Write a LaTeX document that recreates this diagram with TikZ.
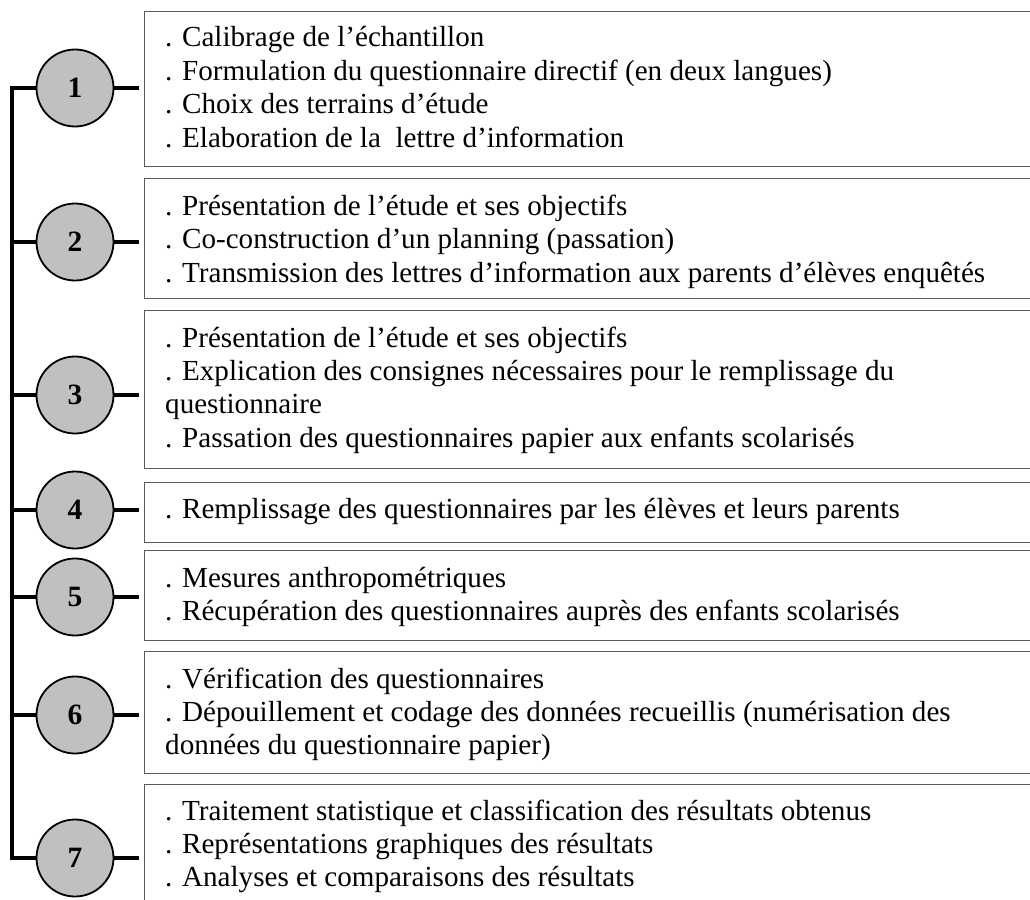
\documentclass[tikz,border=0pt]{standalone}
\usepackage{fontspec}
\setmainfont{Liberation Serif}
\definecolor{boxgray}{RGB}{90,90,90}
\definecolor{numgray}{RGB}{192,192,192}
\begin{document}
\begin{tikzpicture}[x=1pt,y=-1pt,
  box/.style={draw=boxgray, line width=1.3pt, anchor=north west, minimum width=930pt, inner sep=0pt},
  txt/.style={anchor=base west, inner sep=0pt, font=\fontsize{29.1pt}{33pt}\selectfont},
  num/.style={circle, draw=black, line width=1.8pt, fill=numgray, minimum size=77pt, inner sep=0pt, font=\fontsize{29.5pt}{33pt}\selectfont\bfseries},
  bus/.style={line width=4pt, draw=black},
]
\useasboundingbox (0,0) rectangle (1030,899);
\clip (0,0) rectangle (1030,899);

% boxes
\node[box, minimum height=155pt] (b1) at (144,11) {};
\node[box, minimum height=120pt] (b2) at (144,178) {};
\node[box, minimum height=158pt] (b3) at (144,310) {};
\node[box, minimum height=60pt]  (b4) at (144,482) {};
\node[box, minimum height=90pt]  (b5) at (144,550) {};
\node[box, minimum height=122pt] (b6) at (144,651) {};
\node[box, minimum height=200pt] (b7) at (144,784) {};

% circles
\node[num] (c1) at (75,88) {1};
\node[num] (c2) at (75,242) {2};
\node[num] (c3) at (75,395) {3};
\node[num] (c4) at (75,510) {4};
\node[num] (c5) at (75,597) {5};
\node[num] (c6) at (75,715) {6};
\node[num] (c7) at (75,858) {7};

% bus
\coordinate (bt) at (12,88);
\coordinate (bb) at (12,858);
\draw[bus] (c1.west) -- (bt) -- (bb) -- (c7.west);
\foreach \i in {2,...,6}{ \draw[bus] (c\i.west) -- (c\i.west -| bt); }
\foreach \i in {1,...,7}{ \draw[bus, shorten >=5pt] (c\i.east) -- (c\i.east -| b\i.west); }

% texts
\node[txt] (t11) at (165,47)  {. Calibrage de l’échantillon};
\node[txt] (t12) at (165,80)  {. Formulation du questionnaire directif (en deux langues)};
\node[txt] (t13) at (165,113) {. Choix des terrains d’étude};
\node[txt] (t14) at (165,147) {. Elaboration de la~ lettre d’information};

\node[txt] (t21) at (165,215) {. Présentation de l’étude et ses objectifs};
\node[txt] (t22) at (165,248) {. Co-construction d’un planning (passation)};
\node[txt] (t23) at (165,282) {. Transmission des lettres d’information aux parents d’élèves enquêtés};

\node[txt] (t31) at (165,347) {. Présentation de l’étude et ses objectifs};
\node[txt] (t32) at (165,380) {. Explication des consignes nécessaires pour le remplissage du};
\node[txt] (t33) at (165,413) {questionnaire};
\node[txt] (t34) at (165,447) {. Passation des questionnaires papier aux enfants scolarisés};

\node[txt] (t41) at (165,518) {. Remplissage des questionnaires par les élèves et leurs parents};

\node[txt] (t51) at (165,587) {. Mesures anthropométriques};
\node[txt] (t52) at (165,620) {. Récupération des questionnaires auprès des enfants scolarisés};

\node[txt] (t61) at (165,688) {. Vérification des questionnaires};
\node[txt] (t62) at (165,721) {. Dépouillement et codage des données recueillis (numérisation des};
\node[txt] (t63) at (165,754) {données du questionnaire papier)};

\node[txt] (t71) at (165,820) {. Traitement statistique et classification des résultats obtenus};
\node[txt] (t72) at (165,853) {. Représentations graphiques des résultats};
\node[txt] (t73) at (165,886) {. Analyses et comparaisons des résultats};
\end{tikzpicture}
\end{document}
